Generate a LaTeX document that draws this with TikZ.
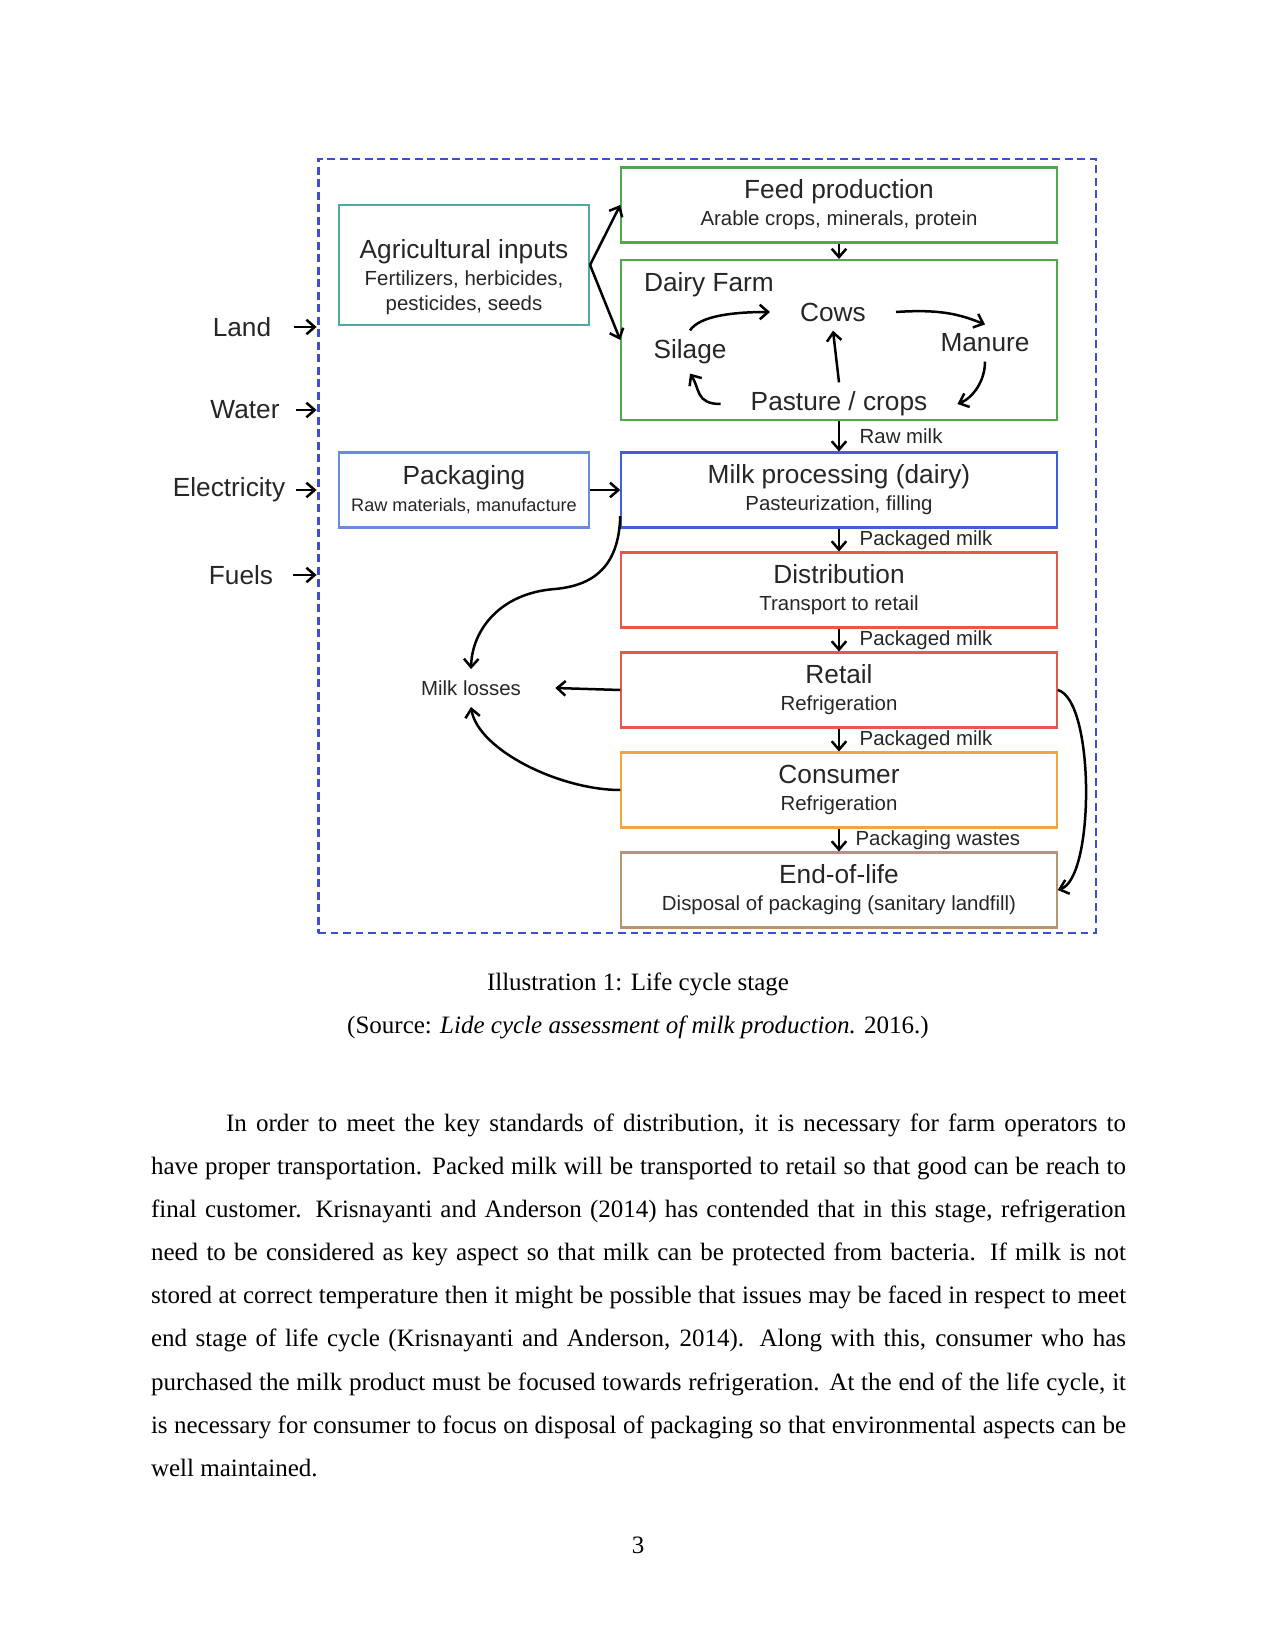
\documentclass[tikz,border=0pt]{standalone}
\usepackage{fontspec}
\setmainfont{Liberation Serif}
\newfontfamily\diagfont{Liberation Sans}
\usetikzlibrary{arrows.meta}

\definecolor{lcablue}{HTML}{3D4FCF}
\definecolor{agriteal}{HTML}{4FA8A3}
\definecolor{feedgreen}{HTML}{4FA84A}
\definecolor{packblue}{HTML}{6A8BE0}
\definecolor{procblue}{HTML}{3E62D6}
\definecolor{retailred}{HTML}{E8574B}
\definecolor{consorange}{HTML}{F5A53A}
\definecolor{eolbrown}{HTML}{B8956E}
\definecolor{diagtext}{HTML}{262626}

\newcommand{\stagetitle}{\fontsize{12.6}{13.4}\selectfont}
\newcommand{\stagesub}{\fontsize{9.8}{12}\selectfont}

\begin{document}
\begin{tikzpicture}[x=0.48pt, y=-0.48pt, line width=1pt,
    >={Straight Barb[length=4pt,width=7pt]},
    stage/.style={draw, line width=1pt, minimum height=36pt, inner sep=0pt,
        align=center, text=diagtext, font=\diagfont},
    wide/.style={stage, minimum width=209pt},
    narrow/.style={stage, minimum width=120pt},
    farmitem/.style={font=\diagfont\stagetitle, text=diagtext,
        inner xsep=14pt, inner ysep=4pt},
    inputlabel/.style={font=\diagfont\stagetitle, text=diagtext},
    flowlabel/.style={font=\diagfont\stagesub, text=diagtext, anchor=west,
        xshift=6pt},
    flow/.style={->, line width=1.2pt},
    bodyline/.style={anchor=base west, inner sep=0pt,
        font=\fontsize{12}{14}\selectfont}]
    \useasboundingbox (0,0) rectangle (1275,1650);

    % system boundary
    \node[draw=lcablue, line width=1.4pt, dash pattern=on 3.8pt off 2.2pt,
        minimum width=373.4pt, minimum height=371.5pt] (lca) at (707,546) {};

    % stages
    \node[narrow, draw=agriteal, minimum height=57.6pt]
    (agri) at (464,265) {\rule{0pt}{21pt}\stagetitle Agricultural inputs\\[1pt]
        \stagesub Fertilizers, herbicides,\\ \stagesub pesticides, seeds};
    \node[wide, draw=feedgreen]
    (feed) at (839,205) {\stagetitle Feed production\\[1pt]
        \stagesub Arable crops, minerals, protein};
    \node[wide, draw=feedgreen, minimum height=76.8pt]
    (dairy) at (839,340) {};
    \node[narrow, draw=packblue]
    (pack) at (464,490) {\stagetitle Packaging\\[1pt]
        \fontsize{8.7}{12}\selectfont Raw materials, manufacture};
    \node[wide, draw=procblue]
    (proc) at (839,490) {\stagetitle Milk processing (dairy)\\[1pt]
        \stagesub Pasteurization, filling};
    \node[wide, draw=retailred]
    (distr) at (839,590) {\stagetitle Distribution\\[1pt]
        \stagesub Transport to retail};
    \node[wide, draw=retailred]
    (retail) at (839,690) {\stagetitle Retail\\[1pt]
        \stagesub Refrigeration};
    \node[wide, draw=consorange]
    (cons) at (839,790) {\stagetitle Consumer\\[1pt]
        \stagesub Refrigeration};
    \node[wide, draw=eolbrown]
    (eol) at (839,890) {\stagetitle End-of-life\\[1pt]
        \stagesub Disposal of packaging (sanitary landfill)};

    % inside the dairy farm
    \node[anchor=west, inner sep=0pt, font=\diagfont\stagetitle, text=diagtext]
    (farmname) at (643,285) {Dairy Farm};
    \node[farmitem] (cows) at (833,312) {Cows};
    \node[farmitem] (silage) at (690,352) {Silage};
    \node[farmitem] (manure) at (985,343) {Manure};
    \node[farmitem] (pasture) at (839,404) {Pasture / crops};
    \draw[flow] (silage.north) .. controls +(10,-15) and +(-35,0) .. (cows.west);
    \draw[flow] (cows.east) .. controls +(45,-3) and +(-25,-10) .. (manure.north);
    \draw[flow] (manure.south) .. controls +(0,20) and +(15,-6) .. (pasture.east);
    \draw[flow] (pasture.north) -- (cows.south);
    \draw[flow] (pasture.west) .. controls +(-25,0) and +(10,15) .. (silage.south);

    % inputs
    \node[inputlabel] (land) at (242,327) {Land};
    \node[inputlabel] (water) at (245,410) {Water};
    \node[inputlabel] (elec) at (229,490) {Electricity};
    \node[inputlabel] (fuels) at (241,575) {Fuels};
    \draw[flow] (294,0 |- land) -- (land -| lca.west);
    \draw[flow] (296,0 |- water) -- (water -| lca.west);
    \draw[flow] (296,0 |- elec) -- (elec -| lca.west);
    \draw[flow] (293,0 |- fuels) -- (fuels -| lca.west);

    % main chain
    \draw[flow] (agri.east) -- (feed.west);
    \draw[flow] (agri.east) -- (dairy.west);
    \draw[flow] (feed.south) -- (dairy.north);
    \draw[flow] (dairy.south) -- node[flowlabel] {Raw milk} (proc.north);
    \draw[flow] (pack.east) -- (proc.west);
    \draw[flow] (proc.south) -- node[flowlabel] {Packaged milk} (distr.north);
    \draw[flow] (distr.south) -- node[flowlabel] {Packaged milk} (retail.north);
    \draw[flow] (retail.south) -- node[flowlabel] {Packaged milk} (cons.north);
    \draw[flow] (cons.south) -- node[flowlabel, xshift=-2pt] {Packaging wastes} (eol.north);

    % losses
    \node[font=\diagfont\stagesub, text=diagtext, inner xsep=16pt, inner ysep=5pt]
    (loss) at (471,688) {Milk losses};
    \draw[flow] ([yshift=6pt]proc.south west) .. controls (619,560) and (600,585) ..
    (555,589) .. controls (500,593) and (472,630) .. (loss.north);
    \draw[flow] (retail.west) -- (loss.east);
    \draw[flow] (cons.west) .. controls (560,790) and (478,750) .. (loss.south);
    \draw[flow] (retail.east) .. controls (1095,700) and (1095,878) .. (eol.east);

    % caption
    \node[anchor=base, font=\fontsize{12}{14}\selectfont]
    (caption) at (638,990) {Illustration 1: Life cycle stage};
    \node[anchor=base, font=\fontsize{12}{14}\selectfont]
    (source) at (638,1033) {(Source: \textit{Lide cycle assessment of milk production.} 2016.)};

    % body text
    \node[bodyline] (line1) at (225,1131) {\makebox[432pt][s]{In order to meet the key standards of distribution, it is necessary for farm operators to}};
    \node[bodyline] (line2) at (150,1174) {\makebox[468pt][s]{have proper transportation. Packed milk will be transported to retail so that good can be reach to}};
    \node[bodyline] (line3) at (150,1217) {\makebox[468pt][s]{final customer. Krisnayanti and Anderson (2014) has contended that in this stage, refrigeration}};
    \node[bodyline] (line4) at (150,1260) {\makebox[468pt][s]{need to be considered as key aspect so that milk can be protected from bacteria. If milk is not}};
    \node[bodyline] (line5) at (150,1303) {\makebox[468pt][s]{stored at correct temperature then it might be possible that issues may be faced in respect to meet}};
    \node[bodyline] (line6) at (150,1346) {\makebox[468pt][s]{end stage of life cycle (Krisnayanti and Anderson, 2014). Along with this, consumer who has}};
    \node[bodyline] (line7) at (150,1390) {\makebox[468pt][s]{purchased the milk product must be focused towards refrigeration. At the end of the life cycle, it}};
    \node[bodyline] (line8) at (150,1433) {\makebox[468pt][s]{is necessary for consumer to focus on disposal of packaging so that environmental aspects can be}};
    \node[bodyline] (line9) at (150,1476) {well maintained.};

    \node[anchor=base, font=\fontsize{12}{14}\selectfont] (pageno) at (638,1553) {3};
\end{tikzpicture}
\end{document}
